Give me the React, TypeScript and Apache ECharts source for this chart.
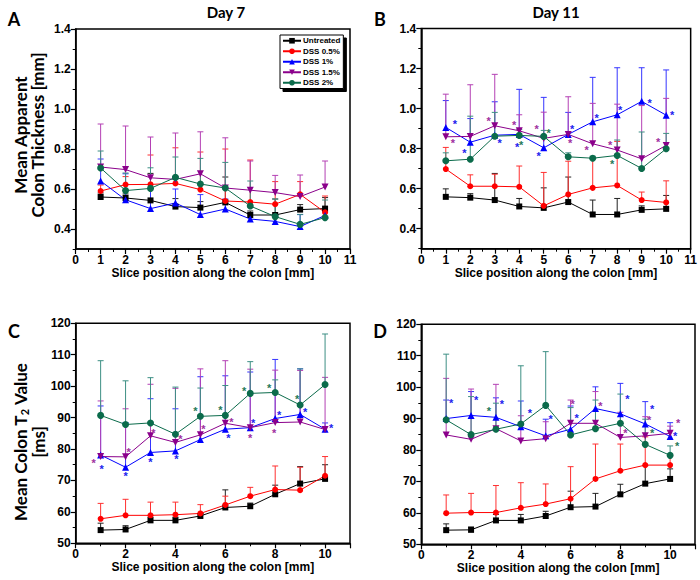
import React, { useEffect, useRef } from 'react';
import * as echarts from 'echarts';

// ---------- data ----------
const sliceX = [1, 2, 3, 4, 5, 6, 7, 8, 9, 10];
const seriesNames = ['Untreated', 'DSS 0.5%', 'DSS 1%', 'DSS 1.5%', 'DSS 2%'];

// Panel A: Day 7 thickness [mm]
const untreatedA = [0.56, 0.555, 0.543, 0.512, 0.507, 0.533, 0.47, 0.47, 0.497, 0.502];
const dss05A = [0.59, 0.622, 0.623, 0.628, 0.597, 0.54, 0.535, 0.524, 0.573, 0.483];
const dss1A = [0.64, 0.546, 0.502, 0.53, 0.472, 0.5, 0.45, 0.438, 0.412, 0.468];
const dss15A = [0.71, 0.697, 0.656, 0.648, 0.676, 0.605, 0.594, 0.582, 0.562, 0.61];
const dss2A = [0.705, 0.592, 0.603, 0.658, 0.625, 0.605, 0.515, 0.462, 0.423, 0.457];
const errUntreatedA = [0.02, 0.02, 0.135, 0.04, 0.03, 0.127, 0.02, 0.08, 0.025, 0.055];
const err05A = [0.03, 0.04, 0.147, 0.178, 0.188, 0.26, 0.21, 0.113, 0.064, 0.082];
const err1A = [0.11, 0.13, 0.1, 0.07, 0.1, 0.05, 0.03, 0.03, 0.06, 0.02];
const err15A = [0.215, 0.218, 0.204, 0.232, 0.21, 0.251, 0.146, 0.086, 0.108, 0.13];
const err2A = [0.085, 0.088, 0.103, 0.102, 0.128, 0.128, 0.125, 0.088, 0.05, 0.088];

// Panel B: Day 11 thickness [mm]
const untreatedB = [0.559, 0.555, 0.543, 0.511, 0.504, 0.533, 0.471, 0.471, 0.494, 0.499];
const dss05B = [0.698, 0.612, 0.612, 0.609, 0.514, 0.571, 0.604, 0.616, 0.543, 0.531];
const dss1B = [0.906, 0.832, 0.867, 0.871, 0.804, 0.871, 0.934, 0.969, 1.036, 0.967];
const dss15B = [0.859, 0.861, 0.914, 0.889, 0.851, 0.871, 0.824, 0.793, 0.749, 0.816];
const dss2B = [0.739, 0.747, 0.862, 0.866, 0.861, 0.759, 0.752, 0.766, 0.701, 0.799];
const errUntreatedB = [0.04, 0.02, 0.133, 0.04, 0.1, 0.125, 0.072, 0.08, 0.02, 0.067];
const err05B = [0.108, 0.057, 0.06, 0.104, 0.167, 0.166, 0.15, 0.22, 0.04, 0.108];
const err1B = [0.134, 0.118, 0.167, 0.225, 0.252, 0.11, 0.222, 0.235, 0.168, 0.226];
const err15B = [0.213, 0.258, 0.257, 0.08, 0.131, 0.188, 0.202, 0.229, 0.266, 0.235];
const err2B = [0.04, 0.215, 0.119, 0.03, 0.03, 0.02, 0.01, 0.077, 0.182, 0.077];

// Panel C: Day 7 T2 [ms]
const untreatedC = [54.2, 54.4, 57.3, 57.3, 58.7, 61.4, 61.8, 65.6, 69.0, 70.5];
const dss05C = [57.8, 58.9, 58.9, 59.1, 59.5, 62.2, 65.0, 67.1, 66.9, 71.5];
const dss1C = [78.1, 74.2, 78.9, 79.4, 83.0, 86.3, 86.8, 89.7, 91.0, 86.3];
const dss15C = [77.6, 77.5, 84.2, 82.1, 84.5, 88.2, 86.8, 88.4, 88.6, 86.2];
const dss2C = [90.7, 87.8, 88.3, 84.7, 90.4, 90.7, 97.7, 98.0, 94.0, 100.5];
const errUntreatedC = [2.2, 1.2, 1.0, 1.0, 0.8, 5.6, 1.0, 2.9, 5.4, 4.5];
const err05C = [4.9, 5.1, 4.2, 4.0, 2.8, 2.8, 2.8, 7.5, 7.3, 6.1];
const err1C = [15.6, 14.2, 17.1, 13.4, 20.0, 17.0, 17.7, 18.8, 14.5, 2.0];
const err15C = [17.7, 15.3, 16.4, 17.2, 21.0, 19.9, 18.6, 16.7, 16.4, 16.6];
const err2C = [17.4, 13.9, 14.4, 15.0, 9.0, 9.5, 10.1, 4.0, 11.5, 16.1];

// Panel D: Day 11 T2 [ms]
const untreatedD = [54.5, 54.6, 57.6, 57.6, 59.0, 61.8, 62.0, 65.9, 69.3, 70.8];
const dss05D = [59.9, 60.1, 60.1, 61.6, 62.8, 64.5, 70.8, 73.4, 75.2, 75.2];
const dss1D = [90.0, 91.0, 90.4, 87.4, 84.5, 86.6, 93.2, 91.5, 88.3, 84.3];
const dss15D = [84.8, 83.4, 86.8, 82.9, 83.6, 88.5, 88.5, 84.0, 84.5, 85.3];
const dss2D = [89.6, 84.9, 86.6, 88.3, 94.2, 84.8, 86.8, 88.5, 81.8, 78.3];
const errUntreatedD = [2.0, 0.9, 1.9, 1.9, 1.5, 5.1, 4.2, 3.2, 5.7, 3.2];
const err05D = [5.8, 6.1, 8.6, 8.0, 6.4, 10.2, 11.1, 8.5, 9.0, 3.0];
const err1D = [5.9, 7.6, 6.2, 8.2, 5.3, 7.4, 6.9, 9.7, 7.1, 4.4];
const err15D = [18.0, 16.0, 14.1, 8.0, 5.4, 7.4, 10.1, 8.0, 6.1, 2.3];
const err2D = [20.9, 12.1, 8.3, 18.5, 17.1, 8.7, 9.1, 9.3, 8.0, 3.0];

// Axis tick labels
const thickLabels = [0.4, 0.6, 0.8, 1.0, 1.2, 1.4];
const thickMinor = [0.3, 0.5, 0.7, 0.9, 1.1, 1.3];

// significance-star annotation offsets (px from the point), null = no star
type Off = [number, number] | null;
const N: Off = null;
const starsB1: Off[] = [[9, -6], [-6, 8], [5, 5], [-2, 10], [-5, 5], [4, -8], [4, -7], [3, -8], [8, -1], [6, -3]];
const starsB15: Off[] = [[7, 3], N, [-6, -8], [-5, -9], [-7, -12], [2, 6], [-6, 3], [-7, -8], N, [-8, -6]];
const starsB2: Off[] = [N, N, N, [2, 7], [5, -6], N, N, [-5, 6], N, N];
const starsC1: Off[] = [[1, 11], [0, 6], [0, 7], [1, 5], N, [3, 6], [3, -8], [4, -7], [5, -5], [6, -4]];
const starsC15: Off[] = [[-7, 3], [3, -8], [3, -6], [5, -6], [3, -9], [6, -4], [0, 7], [-1, 7], N, N];
const starsC2: Off[] = [N, N, N, N, [-5, -8], [-5, -8], [-6, -5], [-6, -7], [-3, -9], N];
const starsD1: Off[] = [[5, -19], [5, -18], [6, -16], [9, -17], [5, -20], [6, -14], N, [7, -18], [7, -18], [5, -4]];
const starsD15: Off[] = [N, N, N, N, N, [2, -22], [5, -20], [5, -7], [4, -19], [8, -13]];
const starsD2: Off[] = [N, N, [-7, -21], N, N, N, N, N, [7, -14], [7, -12]];

// ---------- styles ----------
const lineColors = ['#000000', '#ff0000', '#0000ff', '#8b008b', '#0b6b4b'];
const barColors = ['#222222', '#ff3030', '#3535ff', '#b440b4', '#3d8f84'];
const starColors = ['#000', '#ff0000', '#2222ee', '#a030a0', '#1f7a5a'];
const symbols = ['rect', 'circle', 'triangle', 'triangle', 'circle'];
const symbolRot = [0, 0, 0, 180, 0];
const symbolSizes = [6, 6, 7, 7, 7];
const FONT = '"Liberation Sans", Arial, sans-serif';
const TFONT = 'Lato, "Open Sans", sans-serif';

const panels = [
  { vals: [untreatedA, dss05A, dss1A, dss15A, dss2A], errs: [errUntreatedA, err05A, err1A, err15A, err2A], stars: [N, N, N, N, N] as any[] },
  { vals: [untreatedB, dss05B, dss1B, dss15B, dss2B], errs: [errUntreatedB, err05B, err1B, err15B, err2B], stars: [null, null, starsB1, starsB15, starsB2] },
  { vals: [untreatedC, dss05C, dss1C, dss15C, dss2C], errs: [errUntreatedC, err05C, err1C, err15C, err2C], stars: [null, null, starsC1, starsC15, starsC2] },
  { vals: [untreatedD, dss05D, dss1D, dss15D, dss2D], errs: [errUntreatedD, err05D, err1D, err15D, err2D], stars: [null, null, starsD1, starsD15, starsD2] },
];

const grids = [
  { left: 75.7, top: 29, width: 274.3, height: 220 },
  { left: 421.3, top: 28.5, width: 273.7, height: 220.2 },
  { left: 75.7, top: 323.3, width: 274.3, height: 220 },
  { left: 421.3, top: 324.3, width: 273.7, height: 220 },
];
const nameGaps = [15, 15, 18, 12];

function buildOption() {
  const series: any[] = [];
  panels.forEach((p, pi) => {
    for (let k = 0; k < 5; k++) {
      const vals = p.vals[k];
      const errs = p.errs[k];
      const col = barColors[k];
      series.push({
        type: 'custom',
        xAxisIndex: pi,
        yAxisIndex: pi,
        silent: true,
        z: 2,
        encode: { x: 0, y: [1, 2] },
        data: sliceX.map((x, i) => [x, vals[i], vals[i] + errs[i]]),
        renderItem: (params: any, api: any) => {
          const a = api.coord([api.value(0), api.value(1)]);
          const b = api.coord([api.value(0), api.value(2)]);
          return {
            type: 'group',
            children: [
              { type: 'line', shape: { x1: a[0], y1: a[1], x2: b[0], y2: b[1] }, style: { stroke: col, lineWidth: 1 } },
              { type: 'line', shape: { x1: b[0] - 3, y1: b[1], x2: b[0] + 3, y2: b[1] }, style: { stroke: col, lineWidth: 1 } },
            ],
          };
        },
      });
    }
    for (let k = 0; k < 5; k++) {
      const vals = p.vals[k];
      const st = p.stars[k];
      series.push({
        type: 'line',
        name: seriesNames[k],
        xAxisIndex: pi,
        yAxisIndex: pi,
        z: 3,
        symbol: symbols[k],
        symbolRotate: symbolRot[k],
        symbolSize: symbolSizes[k],
        itemStyle: { color: lineColors[k] },
        lineStyle: { color: lineColors[k], width: 1 },
        label: { show: false },
        data: sliceX.map((x, i) => {
          const item: any = { value: [x, vals[i]] };
          const s = st ? st[i] : null;
          if (s) {
            item.label = {
              show: true,
              formatter: '*',
              position: 'inside',
              offset: [s[0], s[1] + 3],
              color: starColors[k],
              fontSize: 11,
              lineHeight: 9,
              fontWeight: 'bold',
              fontFamily: FONT,
            };
          }
          return item;
        }),
      });
    }
  });

  const axisLine = { show: true, lineStyle: { color: '#000', width: 1.5 } };
  const labelStyle = { color: '#000', fontSize: 12, fontWeight: 'bold', fontFamily: FONT };

  const xAxis = grids.map((g, i) => ({
    type: 'value',
    gridIndex: i,
    min: 0,
    max: 11,
    interval: i < 2 ? 1 : 2,
    name: 'Slice position along the colon [mm]',
    nameLocation: 'middle',
    nameGap: nameGaps[i],
    nameTextStyle: { color: '#000', fontSize: 12, fontWeight: 'bold', fontFamily: FONT },
    axisLine,
    axisTick: { show: true, length: 5, lineStyle: { color: '#000', width: 1.2 } },
    minorTick: { show: true, splitNumber: 2, length: 3, lineStyle: { color: '#000', width: 1 } },
    axisLabel: { ...labelStyle, margin: 5, showMaxLabel: i < 2 },
    splitLine: { show: false },
  }));

  const yAxis: any[] = grids.map((g, i) => {
    if (i < 2) {
      return {
        type: 'value',
        gridIndex: i,
        position: 'left',
        min: 0.3,
        max: 1.4,
        axisLine,
        axisTick: { show: true, length: 5, lineStyle: { color: '#000', width: 1.2 }, customValues: thickLabels },
        axisLabel: { ...labelStyle, margin: 5, customValues: thickLabels, formatter: (v: number) => v.toFixed(1) },
        splitLine: { show: false },
      };
    }
    return {
      type: 'value',
      gridIndex: i,
      position: 'left',
      min: 50,
      max: 120,
      interval: 10,
      axisLine,
      axisTick: { show: true, length: 5, lineStyle: { color: '#000', width: 1.2 } },
      minorTick: { show: true, splitNumber: 2, length: 3, lineStyle: { color: '#000', width: 1 } },
      axisLabel: { ...labelStyle, margin: 5 },
      splitLine: { show: false },
    };
  });
  // minor ticks for thickness axes (overlaid on the left axis)
  [0, 1].forEach((gi) => {
    yAxis.push({
      type: 'value',
      gridIndex: gi,
      position: 'left',
      offset: 0,
      min: 0.3,
      max: 1.4,
      axisLine: { show: false },
      axisTick: { show: true, length: 3, lineStyle: { color: '#000', width: 1 }, customValues: thickMinor },
      axisLabel: { show: false },
      splitLine: { show: false },
    });
  });

  const t = (text: string, x: number, y: number, size: number, rot = 0) => ({
    type: 'text',
    x,
    y,
    rotation: rot,
    style: {
      text,
      fill: '#000',
      font: `bold ${size}px ${TFONT}`,
      textAlign: 'center',
      textVerticalAlign: 'middle',
    },
  });

  const graphic: any[] = [
    t('A', 14, 19, 18),
    t('B', 380, 19, 18),
    t('C', 14, 331, 18),
    t('D', 380, 331, 18),
    t('Day 7', 226, 12, 15),
    t('Day 11', 556, 12, 15),
    t('Mean Apparent', 20, 135, 17, Math.PI / 2),
    t('Colon Thickness [mm]', 37, 135, 17, Math.PI / 2),
    {
      type: 'text',
      x: 20,
      y: 442,
      rotation: Math.PI / 2,
      style: {
        text: '{a|Mean Colon T}{s|2}{a| Value}',
        textAlign: 'center',
        textVerticalAlign: 'middle',
        rich: {
          a: { fontFamily: TFONT, fontWeight: 'bold', fontSize: 17, fill: '#000', color: '#000' },
          s: { fontFamily: TFONT, fontWeight: 'bold', fontSize: 11, fill: '#000', color: '#000', padding: [8, 0, 0, 0] },
        },
      },
    },
    t('[ms]', 38, 442, 17, Math.PI / 2),
  ];

  return {
    animation: false,
    backgroundColor: '#fff',
    grid: grids.map((g) => ({ ...g, show: true, borderColor: '#000', borderWidth: 1.5, backgroundColor: 'transparent', containLabel: false })),
    xAxis,
    yAxis,
    legend: {
      data: seriesNames,
      orient: 'vertical',
      left: 280,
      top: 35,
      itemWidth: 18,
      itemHeight: 7,
      itemGap: 1,
      padding: [1, 3, 1, 2],
      backgroundColor: '#fff',
      borderColor: '#000',
      borderWidth: 1,
      shadowColor: '#000',
      shadowBlur: 0,
      shadowOffsetX: 3,
      shadowOffsetY: 3,
      selectedMode: false,
      textStyle: { fontSize: 8, fontWeight: 'bold', fontFamily: FONT, color: '#000', lineHeight: 9.5, padding: [0, 0, 0, -3] },
    },
    series,
    graphic,
  };
}

export default function App() {
  const ref = useRef<HTMLDivElement>(null);
  useEffect(() => {
    if (!ref.current) return;
    const chart = echarts.init(ref.current, null, { renderer: 'svg' });
    chart.setOption(buildOption() as any);
    return () => chart.dispose();
  }, []);
  return <div ref={ref} style={{ position: 'absolute', left: 0, top: 0, width: 700, height: 580, background: '#fff' }} />;
}
